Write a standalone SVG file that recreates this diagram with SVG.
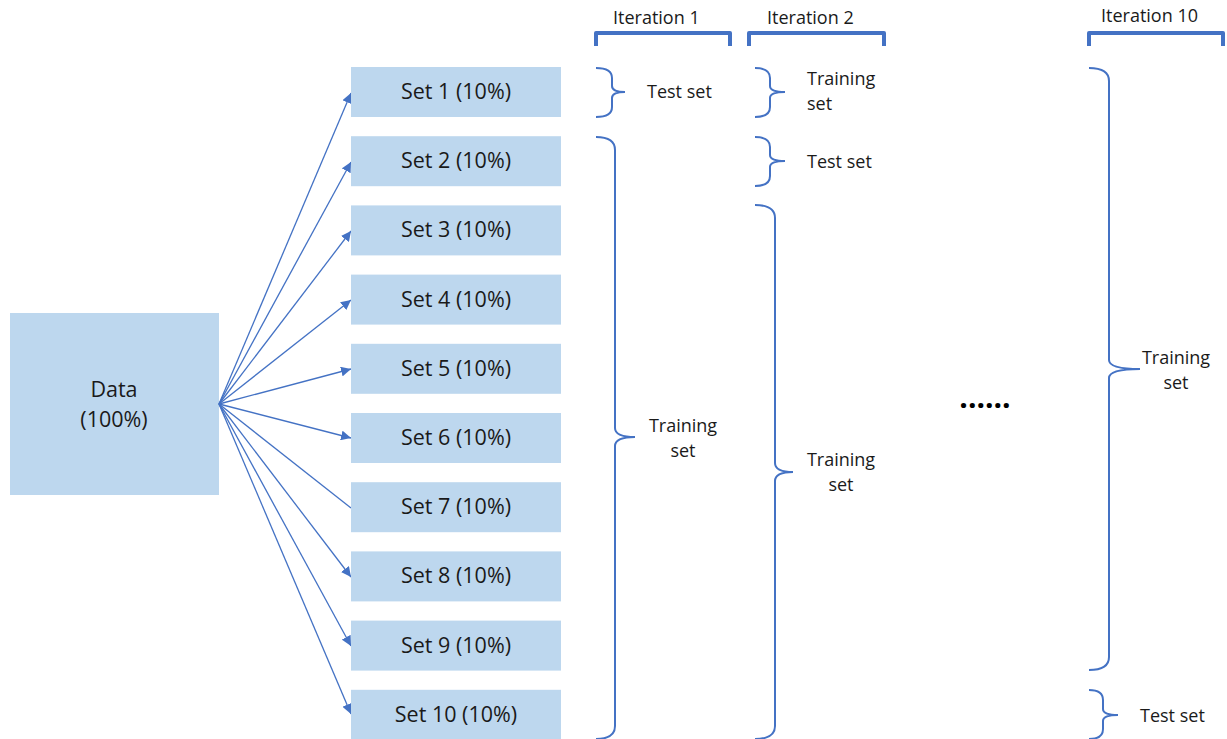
<svg xmlns="http://www.w3.org/2000/svg" width="1227" height="739" viewBox="0 0 1227 739">
  <style>
    .box { fill: #BDD7EE; }
    .lbl { font-family: "Open Sans", "Liberation Sans", sans-serif; font-size: 21.5px; fill: #1a1a1a; text-anchor: middle; }
    .txt { font-family: "Open Sans", "Liberation Sans", sans-serif; font-size: 18px; fill: #1a1a1a; }
    .mid { text-anchor: middle; }
    .conn { stroke: #4472C4; stroke-width: 1.3; fill: none; }
    .brace { stroke: #4472C4; stroke-width: 2; fill: none; }
    .bracket { stroke: #4472C4; stroke-width: 4; fill: none; stroke-linejoin: round; }
  </style>
  <defs>
    <marker id="arrow" viewBox="0 0 10 10" refX="10" refY="5" markerWidth="10" markerHeight="10" markerUnits="userSpaceOnUse" orient="auto">
      <path d="M0,0 L10,5 L0,10 Z" fill="#4472C4"/>
    </marker>
  </defs>
  <rect width="1227" height="739" fill="#ffffff"/>

  <!-- source node -->
  <g id="data">
    <rect class="box" x="10" y="313" width="209" height="182"/>
    <text class="lbl" x="114" y="397">Data</text>
    <text class="lbl" x="114" y="427">(100%)</text>
  </g>

  <!-- connectors from the data block to each fold -->
  <g id="connectors">
    <line class="conn" x1="219" y1="404" x2="351" y2="93" marker-end="url(#arrow)"/>
    <line class="conn" x1="219" y1="404" x2="351" y2="162" marker-end="url(#arrow)"/>
    <line class="conn" x1="219" y1="404" x2="351" y2="231" marker-end="url(#arrow)"/>
    <line class="conn" x1="219" y1="404" x2="351" y2="300" marker-end="url(#arrow)"/>
    <line class="conn" x1="219" y1="404" x2="351" y2="369" marker-end="url(#arrow)"/>
    <line class="conn" x1="219" y1="404" x2="351" y2="438" marker-end="url(#arrow)"/>
    <line class="conn" x1="219" y1="404" x2="351" y2="508"/>
    <line class="conn" x1="219" y1="404" x2="351" y2="577" marker-end="url(#arrow)"/>
    <line class="conn" x1="219" y1="404" x2="351" y2="646" marker-end="url(#arrow)"/>
    <line class="conn" x1="219" y1="404" x2="351" y2="714" marker-end="url(#arrow)"/>
  </g>

  <!-- folds -->
  <g id="set1"><rect class="box" x="351" y="67" width="210" height="50"/><text class="lbl" x="456" y="99">Set 1 (10%)</text></g>
  <g id="set2"><rect class="box" x="351" y="136.2" width="210" height="50"/><text class="lbl" x="456" y="168.2">Set 2 (10%)</text></g>
  <g id="set3"><rect class="box" x="351" y="205.4" width="210" height="50"/><text class="lbl" x="456" y="237.4">Set 3 (10%)</text></g>
  <g id="set4"><rect class="box" x="351" y="274.6" width="210" height="50"/><text class="lbl" x="456" y="306.6">Set 4 (10%)</text></g>
  <g id="set5"><rect class="box" x="351" y="343.8" width="210" height="50"/><text class="lbl" x="456" y="375.8">Set 5 (10%)</text></g>
  <g id="set6"><rect class="box" x="351" y="413" width="210" height="50"/><text class="lbl" x="456" y="445">Set 6 (10%)</text></g>
  <g id="set7"><rect class="box" x="351" y="482.2" width="210" height="50"/><text class="lbl" x="456" y="514.2">Set 7 (10%)</text></g>
  <g id="set8"><rect class="box" x="351" y="551.4" width="210" height="50"/><text class="lbl" x="456" y="583.4">Set 8 (10%)</text></g>
  <g id="set9"><rect class="box" x="351" y="620.6" width="210" height="50"/><text class="lbl" x="456" y="652.6">Set 9 (10%)</text></g>
  <g id="set10"><rect class="box" x="351" y="689.8" width="210" height="50"/><text class="lbl" x="456" y="721.8">Set 10 (10%)</text></g>

  <!-- iteration 1 -->
  <g id="iteration1">
    <text class="txt" x="613" y="24">Iteration 1</text>
    <path class="bracket" d="M596,46 V33 H730 V46"/>
    <path class="brace" d="M596,68 Q612,68 612,78 V86 Q612,92 625,92 Q612,92 612,98 V107 Q612,117 596,117"/>
    <text class="txt" x="647" y="98">Test set</text>
    <path class="brace" d="M596,137 Q615,137 615,150 V428 Q615,437 635,437 Q615,437 615,446 V726 Q615,739 596,739"/>
    <text class="txt mid" x="683" y="432">Training</text>
    <text class="txt mid" x="683" y="457">set</text>
  </g>

  <!-- iteration 2 -->
  <g id="iteration2">
    <text class="txt" x="767" y="24">Iteration 2</text>
    <path class="bracket" d="M749,46 V33 H884 V46"/>
    <path class="brace" d="M755,68 Q770,68 770,78 V86 Q770,92 785,92 Q770,92 770,98 V107 Q770,117 755,117"/>
    <text class="txt" x="807" y="85">Training</text>
    <text class="txt" x="807" y="110">set</text>
    <path class="brace" d="M755,137 Q770,137 770,147 V155 Q770,161 785,161 Q770,161 770,167 V176 Q770,186 755,186"/>
    <text class="txt" x="807" y="168">Test set</text>
    <path class="brace" d="M755,205 Q775,205 775,218 V463 Q775,472 793,472 Q775,472 775,481 V726 Q775,739 755,739"/>
    <text class="txt mid" x="841" y="466">Training</text>
    <text class="txt mid" x="841" y="491">set</text>
  </g>

  <text x="985" y="408" font-family="'Open Sans', 'Liberation Sans', sans-serif" font-size="30" font-weight="bold" fill="#000" text-anchor="middle">......</text>

  <!-- iteration 10 -->
  <g id="iteration10">
    <text class="txt" x="1101" y="22">Iteration 10</text>
    <path class="bracket" d="M1089,46 V33 H1223 V46"/>
    <path class="brace" d="M1089,68 Q1109,68 1109,81 V360 Q1109,369 1140,369 Q1109,369 1109,378 V657 Q1109,670 1089,670"/>
    <text class="txt mid" x="1176" y="364">Training</text>
    <text class="txt mid" x="1176" y="389">set</text>
    <path class="brace" d="M1089,690 Q1103,690 1103,700 V709 Q1103,715 1118,715 Q1103,715 1103,721 V729 Q1103,739 1089,739"/>
    <text class="txt" x="1140" y="722">Test set</text>
  </g>
</svg>
